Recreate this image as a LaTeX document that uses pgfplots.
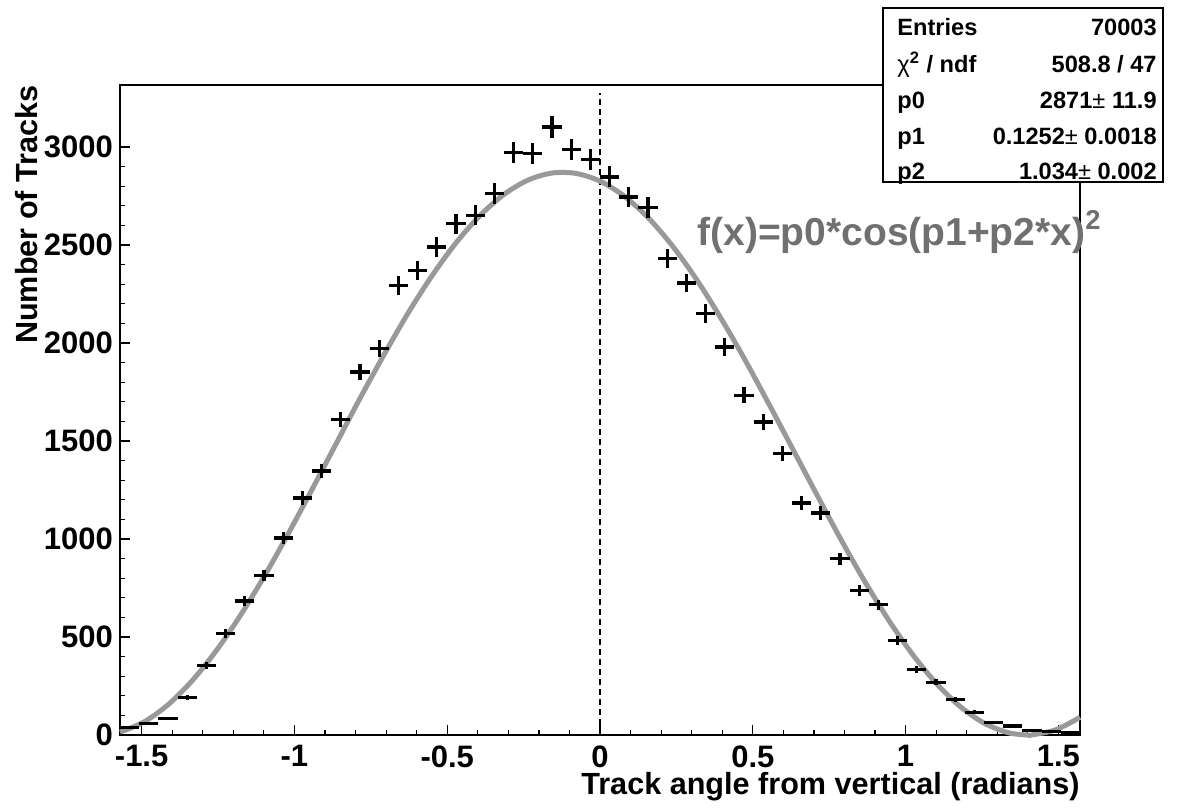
\documentclass[border=0pt]{standalone}
\usepackage{fontspec}
\setmainfont{Liberation Sans}
\usepackage{pgfplots}
\pgfplotsset{compat=1.18}
\usepackage{pgfplotstable}
\definecolor{fitgray}{RGB}{153,153,153}
\definecolor{fittext}{RGB}{112,112,112}

% histogram: bin centre, entries, sqrt(entries)
\pgfplotstableread{
x y ey
-1.53938 40 6.3
-1.47655 58 7.6
-1.41372 84 9.2
-1.35088 192 13.9
-1.28805 356 18.9
-1.22522 519 22.8
-1.16239 684 26.2
-1.09956 815 28.5
-1.03673 1005 31.7
-0.97389 1209 34.8
-0.91106 1347 36.7
-0.84823 1609 40.1
-0.78540 1852 43.0
-0.72257 1971 44.4
-0.65973 2294 47.9
-0.59690 2371 48.7
-0.53407 2490 49.9
-0.47124 2609 51.1
-0.40841 2651 51.5
-0.34558 2762 52.6
-0.28274 2971 54.5
-0.21991 2966 54.5
-0.15708 3102 55.7
-0.09425 2988 54.7
-0.03142 2936 54.2
0.03142 2847 53.4
0.09425 2745 52.4
0.15708 2691 51.9
0.21991 2431 49.3
0.28274 2306 48.0
0.34558 2150 46.4
0.40841 1980 44.5
0.47124 1733 41.6
0.53407 1597 40.0
0.59690 1436 37.9
0.65973 1184 34.4
0.72257 1133 33.7
0.78540 900 30.0
0.84823 738 27.2
0.91106 665 25.8
0.97389 482 22.0
1.03673 334 18.3
1.09956 270 16.4
1.16239 180 13.4
1.22522 117 10.8
1.28805 63 7.9
1.35088 46 6.8
1.41372 24 4.9
1.47655 20 4.5
1.53938 15 3.9
}\hist

% fitted curve
\pgfplotstableread{
x f
-1.5708 14.8
-1.4923 66.7
-1.4137 154.7
-1.3352 276.3
-1.2566 428.6
-1.1781 607.2
-1.0996 807.3
-1.0210 1025
-0.9425 1252.6
-0.8639 1485
-0.7854 1717.7
-0.7069 1940
-0.6283 2152
-0.5498 2343
-0.4712 2511
-0.3927 2650
-0.3142 2758
-0.2356 2831
-0.1571 2867
-0.0785 2865
0 2826
0.0785 2750
0.1571 2640
0.2356 2498
0.3142 2328
0.3927 2134
0.4712 1923
0.5498 1697
0.6283 1466
0.7069 1234
0.7854 1006
0.8639 790
0.9425 591
1.0210 415
1.0996 265
1.1781 146
1.2566 61
1.3352 12.1
1.3980 0
1.4137 0.75
1.4923 27.2
1.5708 90.6
}\fit

\begin{document}
\begin{tikzpicture}
\begin{axis}[
  scale only axis, width=480pt, height=325pt,
  xmin=-1.5708, xmax=1.5708, ymin=0, ymax=3316,
  xtick={-1.5,-1,...,1.5},
  xticklabels={-1.5,-1,-0.5,0,0.5,1,1.5},
  ytick={0,500,...,3000},
  yticklabels={0,500,1000,1500,2000,2500,3000},
  minor x tick num=4, minor y tick num=4,
  xtick pos=bottom, ytick pos=left, tick align=inside,
  major tick length=5pt, minor tick length=2.5pt,
  tick style={black, line width=0.6pt},
  axis line style={line width=0.8pt},
  clip=false,
  ticklabel style={font=\bfseries\fontsize{15.5}{18}\selectfont},
  xticklabel style={inner sep=1pt, yshift=-4pt},
  label style={font=\bfseries\fontsize{15.3}{18}\selectfont},
  xlabel={Track angle from vertical (radians)},
  ylabel={Number of Tracks},
  xlabel style={at={(rel axis cs:1,-0.057)}, anchor=north east, inner sep=0pt},
  ylabel style={at={(rel axis cs:-0.0969,1)}, anchor=east, inner sep=0pt},
]
\draw[black, dash pattern=on 3pt off 2pt, line width=0.6pt] (axis cs:0,0) -- (axis cs:0,3275);
\addplot[fitgray, line width=2.5pt, smooth] table[x=x, y=f] {\fit};
\addplot[draw=none, mark=none,
  error bars/.cd, x dir=both, x fixed=0.0314, y dir=both, y explicit,
  error mark=none, error bar style={draw=black, solid, line width=1.6pt}]
  table[x=x, y=y, y error=ey] {\hist};
\node[anchor=base west, text=fittext, inner sep=0pt,
  font=\bfseries\fontsize{19.5}{22}\selectfont]
  at (rel axis cs:0.601,0.7538) {f(x)=p0*cos(p1+p2*x)\textsuperscript{2}};
% stats box corners and text anchors
\coordinate (sbl) at (rel axis cs:0.7948,0.8508);
\coordinate (str) at (rel axis cs:1.0865,1.1185);
\coordinate (l1) at (rel axis cs:0.8094,1.0769);
\coordinate (l2) at (rel axis cs:0.8094,1.0200);
\coordinate (l3) at (rel axis cs:0.8094,0.9646);
\coordinate (l4) at (rel axis cs:0.8094,0.9092);
\coordinate (l5) at (rel axis cs:0.8094,0.8554);
\coordinate (r1) at (rel axis cs:1.0802,1.0769);
\coordinate (r2) at (rel axis cs:1.0802,1.0200);
\coordinate (r3) at (rel axis cs:1.0802,0.9646);
\coordinate (r4) at (rel axis cs:1.0802,0.9092);
\coordinate (r5) at (rel axis cs:1.0802,0.8554);
\coordinate (bbll) at (rel axis cs:-0.125,-0.1108);
\coordinate (bbur) at (rel axis cs:1.1010,1.1308);
\end{axis}
\draw[fill=white, line width=0.8pt] (sbl) rectangle (str);
\begin{scope}[every node/.style={inner sep=0pt, font=\bfseries\fontsize{11.8}{14}\selectfont}]
\node[anchor=base west] at (l1) {Entries};
\node[anchor=base west] at (l2) {{\mdseries χ}\textsuperscript{2} / ndf};
\node[anchor=base west] at (l3) {p0};
\node[anchor=base west] at (l4) {p1};
\node[anchor=base west] at (l5) {p2};
\node[anchor=base east] at (r1) {70003};
\node[anchor=base east] at (r2) {508.8 / 47};
\node[anchor=base east] at (r3) {2871{\mdseries ±} 11.9};
\node[anchor=base east] at (r4) {0.1252{\mdseries ±} 0.0018};
\node[anchor=base east] at (r5) {1.034{\mdseries ±} 0.002};
\end{scope}
\pgfresetboundingbox
\path[use as bounding box] (bbll) rectangle (bbur);
\end{tikzpicture}
\end{document}
